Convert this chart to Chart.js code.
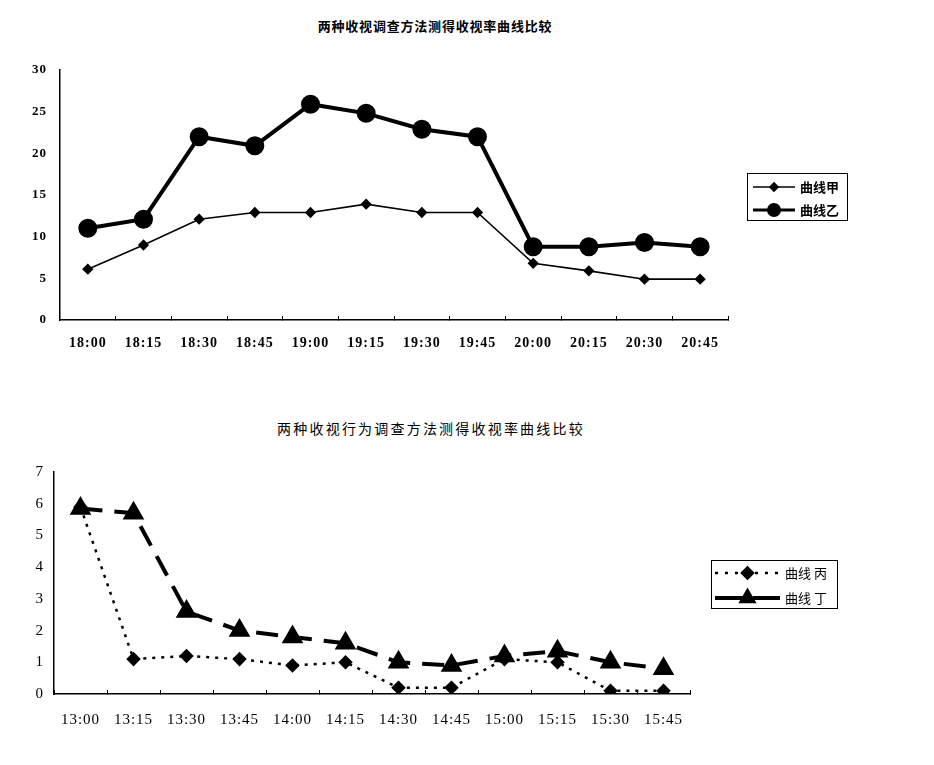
<!DOCTYPE html>
<html>
<head>
<meta charset="utf-8">
<script src="https://cdn.jsdelivr.net/npm/chart.js@4.4.1/dist/chart.umd.min.js"></script>
<style>
    body { margin: 0; background: #fff; }
    .box { position: absolute; left: 0; }
    #top { top: 0; width: 864px; height: 370px; }
    #bottom { top: 380px; width: 860px; height: 380px; }
    .titulo {
        position: absolute;
        width: 600px;
        text-align: center;
        color: #000;
        font-family: 'Noto Sans CJK SC', sans-serif;
        white-space: nowrap;
        line-height: 1;
    }
    #tituloTop { left: 135px; top: 19px; font-size: 13px; font-weight: bold; letter-spacing: 0.8px; }
    #tituloBottom { left: 131px; top: 421px; font-size: 14px; letter-spacing: 2.2px; }
</style>
</head>
<body>
<div class="titulo" id="tituloTop">两种收视调查方法测得收视率曲线比较</div>
<div class="titulo" id="tituloBottom">两种收视行为调查方法测得收视率曲线比较</div>
<div class="box" id="top"><canvas id="chartTop"></canvas></div>
<div class="box" id="bottom"><canvas id="chartBottom"></canvas></div>

<script>
// dados do grafico de cima
const horasTop = ["18:00", "18:15", "18:30", "18:45", "19:00", "19:15", "19:30", "19:45", "20:00", "20:15", "20:30", "20:45"];
const curvaJia = [6.1, 9, 12.1, 12.9, 12.9, 13.9, 12.9, 12.9, 6.8, 5.9, 4.9, 4.9];
const curvaYi = [11, 12.1, 22, 20.9, 25.9, 24.8, 22.9, 22, 8.8, 8.8, 9.3, 8.8];

// dados do grafico de baixo
const horasBottom = ["13:00", "13:15", "13:30", "13:45", "14:00", "14:15", "14:30", "14:45", "15:00", "15:15", "15:30", "15:45"];
const curvaBing = [5.9, 1.1, 1.2, 1.1, 0.9, 1.0, 0.2, 0.2, 1.1, 1.0, 0.1, 0.1];
const curvaDing = [5.85, 5.7, 2.6, 2.0, 1.8, 1.6, 1.0, 0.9, 1.2, 1.35, 1.0, 0.8];

const serif = "'Liberation Serif', 'Times New Roman', serif";
const cjk = "'Noto Sans CJK SC', sans-serif";

// espacamento entre letras dos rotulos dos eixos
const espacoLetras = {
    id: "espacoLetras",
    beforeDraw(chart, args, opts) {
        chart.ctx.letterSpacing = opts.valor;
    },
    afterDraw(chart) {
        chart.ctx.letterSpacing = "0px";
    }
};

// legenda com moldura, desenhada no canvas
const legendaCaixa = {
    id: "legendaCaixa",
    afterDraw(chart, args, opts) {
        const ctx = chart.ctx;
        ctx.save();
        ctx.letterSpacing = "0px";
        ctx.strokeStyle = "#000";
        ctx.lineWidth = 1;
        ctx.strokeRect(opts.x + 0.5, opts.y + 0.5, opts.w, opts.h);

        chart.data.datasets.forEach((ds, i) => {
            const cy = opts.y + opts.firstRow + i * opts.rowH;
            const x1 = opts.x + opts.sampleLeft;
            const x2 = x1 + opts.sampleW;

            ctx.strokeStyle = ds.borderColor;
            ctx.lineWidth = opts.lineWidths[i];
            ctx.setLineDash(opts.dashes[i]);
            ctx.beginPath();
            ctx.moveTo(x1, cy);
            ctx.lineTo(x2, cy);
            ctx.stroke();
            ctx.setLineDash([]);

            ctx.fillStyle = ds.pointBackgroundColor;
            ctx.strokeStyle = ds.pointBorderColor;
            Chart.helpers.drawPoint(ctx, {
                pointStyle: ds.pointStyle,
                radius: opts.radii[i],
                rotation: 0,
                borderWidth: 1
            }, (x1 + x2) / 2, cy);

            ctx.fillStyle = "#000";
            ctx.font = opts.font;
            ctx.textBaseline = "middle";
            ctx.textAlign = "left";
            ctx.fillText(ds.label, opts.x + opts.textLeft, cy);
        });
        ctx.restore();
    }
};

function eixos(labels, yMax, xFont, yFont, yWidth, yPad, xHeight, xPad) {
    return {
        x: {
            type: "category",
            labels: labels,
            offset: true,
            grid: { display: true, offset: true, drawOnChartArea: false, drawTicks: true, tickLength: -4, color: "#000" },
            border: { display: true, color: "#000", width: 1.5 },
            ticks: { color: "#000", font: xFont, padding: xPad, maxRotation: 0, autoSkip: false },
            afterFit: (s) => { s.height = xHeight; }
        },
        y: {
            min: 0,
            max: yMax,
            grid: { display: false, drawTicks: false },
            border: { display: true, color: "#000", width: 1.5 },
            ticks: { stepSize: yMax == 30 ? 5 : 1, color: "#000", font: yFont, padding: yPad },
            afterFit: (s) => { s.width = yWidth; }
        }
    };
}

function mostrarGraficoCima() {
    const ctx = document.getElementById("chartTop");
    new Chart(ctx, {
        type: "line",
        data: {
            labels: horasTop,
            datasets: [
                {
                    label: "曲线甲",
                    data: curvaJia,
                    borderColor: "#000",
                    borderWidth: 1.6,
                    pointStyle: "rectRot",
                    pointRadius: 4.5,
                    pointBackgroundColor: "#000",
                    pointBorderColor: "#000",
                    tension: 0
                },
                {
                    label: "曲线乙",
                    data: curvaYi,
                    borderColor: "#000",
                    borderWidth: 4,
                    pointStyle: "circle",
                    pointRadius: 7.5,
                    pointBackgroundColor: "#000",
                    pointBorderColor: "#000",
                    tension: 0
                }
            ]
        },
        options: {
            responsive: true,
            maintainAspectRatio: false,
            animation: false,
            layout: { padding: { left: 0, right: 136, top: 70, bottom: 0 } },
            plugins: {
                legend: { display: false },
                tooltip: { enabled: false },
                title: { display: false },
                espacoLetras: { valor: "1px" },
                legendaCaixa: {
                    x: 747, y: 173, w: 100, h: 47,
                    firstRow: 14, rowH: 23,
                    sampleLeft: 6, sampleW: 42, textLeft: 53,
                    radii: [4, 5.5],
                    lineWidths: [1.6, 3],
                    dashes: [[], []],
                    font: "bold 13px " + cjk
                }
            },
            scales: eixos(horasTop, 30,
                { family: serif, size: 14, weight: "bold" },
                { family: serif, size: 13, weight: "bold" },
                60, 13, 50, 19)
        },
        plugins: [espacoLetras, legendaCaixa]
    });
}

function mostrarGraficoBaixo() {
    const ctx = document.getElementById("chartBottom");
    new Chart(ctx, {
        type: "line",
        data: {
            labels: horasBottom,
            datasets: [
                {
                    label: "曲线 丙",
                    data: curvaBing,
                    borderColor: "#000",
                    borderWidth: 2.5,
                    borderDash: [3, 6],
                    pointStyle: "rectRot",
                    pointRadius: 5.5,
                    pointBackgroundColor: "#000",
                    pointBorderColor: "#000",
                    tension: 0
                },
                {
                    label: "曲线 丁",
                    data: curvaDing,
                    borderColor: "#000",
                    borderWidth: 4,
                    borderDash: [22, 12],
                    pointStyle: "triangle",
                    pointRadius: 8.5,
                    pointBackgroundColor: "#000",
                    pointBorderColor: "#000",
                    tension: 0
                }
            ]
        },
        options: {
            responsive: true,
            maintainAspectRatio: false,
            animation: false,
            layout: { padding: { left: 0, right: 170, top: 92, bottom: 0 } },
            plugins: {
                legend: { display: false },
                tooltip: { enabled: false },
                title: { display: false },
                espacoLetras: { valor: "1px" },
                legendaCaixa: {
                    x: 711, y: 180, w: 126, h: 48,
                    firstRow: 13, rowH: 25,
                    sampleLeft: 4, sampleW: 65, textLeft: 74,
                    radii: [5.5, 6.5],
                    lineWidths: [2.5, 4],
                    dashes: [[3, 7], [28, 10]],
                    font: "13px " + cjk
                }
            },
            scales: eixos(horasBottom, 7,
                { family: serif, size: 15 },
                { family: serif, size: 15 },
                54, 10, 66, 21)
        },
        plugins: [espacoLetras, legendaCaixa]
    });
}

document.addEventListener("DOMContentLoaded", mostrarGraficoCima);
document.addEventListener("DOMContentLoaded", mostrarGraficoBaixo);
</script>
</body>
</html>
